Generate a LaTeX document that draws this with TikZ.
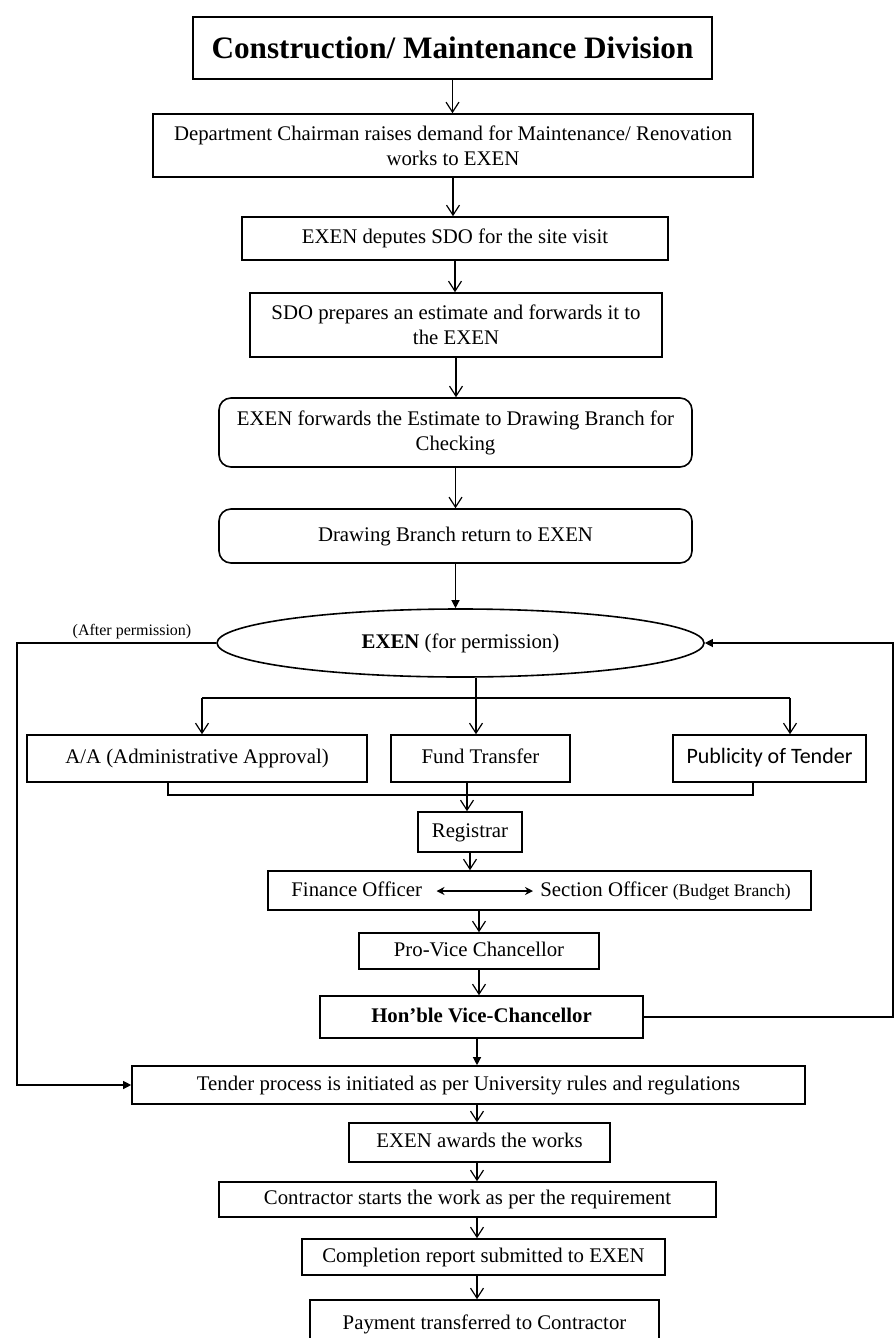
\documentclass[tikz,border=0pt]{standalone}
\usepackage{fontspec}
\setmainfont{Liberation Serif}
\newfontfamily\calibri{Carlito}
\usetikzlibrary{arrows.meta,shapes.geometric}
\begin{document}
\begin{tikzpicture}[x=0.5pt,y=-0.5pt,
  box/.style={draw,line width=0.8pt,align=center,inner sep=0pt,font=\fontsize{10.4}{12.5}\selectfont},
  one/.style={text height=1.6ex,text depth=.45ex},
  rbox/.style={box,rounded corners=6pt},
  arr/.style={line width=0.6pt,-{Straight Barb[length=5pt,width=6.5pt]}},
  arrf/.style={line width=0.6pt,-{Triangle[length=4pt,width=4pt]}},
  dbl/.style={line width=1pt,{Stealth[length=4pt,width=4pt]}-{Stealth[length=4pt,width=4pt]}},
  ln/.style={line width=0.6pt}]
\useasboundingbox (0,0) rectangle (894,1338);
\clip (0,0) rectangle (894,1338);
\node [box,minimum width=259.5pt,minimum height=31pt,font=\fontsize{15.6}{18}\selectfont\bfseries] (title) at (452.5,48) {Construction/ Maintenance Division};
\node [box,minimum width=300pt,minimum height=31.5pt] (dept) at (453,145.5) {Department Chairman raises demand for Maintenance/ Renovation\\works to EXEN};
\node [box,one,minimum width=213pt,minimum height=21.5pt] (depute) at (455,238.5) {EXEN deputes SDO for the site visit};
\node [box,minimum width=206pt,minimum height=32pt] (sdo) at (456,325) {SDO prepares an estimate and forwards it to\\the EXEN};
\node [rbox,minimum width=236.5pt,minimum height=34.5pt] (fwd) at (455.5,432.5) {EXEN forwards the Estimate to Drawing Branch for\\Checking};
\node [rbox,one,minimum width=236.5pt,minimum height=27pt] (drw) at (455.5,536) {Drawing Branch return to EXEN};
\node [box,one,ellipse,minimum width=243.5pt,minimum height=34pt] (exen) at (460.5,643) {\textbf{EXEN} (for permission)};
\node [box,one,minimum width=170pt,minimum height=23.5pt] (aa) at (197,758.5) {A/A (Administrative Approval)};
\node [box,one,minimum width=89.5pt,minimum height=23.5pt] (fund) at (480.5,758.5) {Fund Transfer};
\node [box,one,minimum width=96.5pt,minimum height=23.5pt,font=\calibri\fontsize{11}{13}\selectfont] (pub) at (769.5,758.5) {Publicity of Tender};
\node [box,one,minimum width=52pt,minimum height=20pt] (reg) at (470,832) {Registrar};
\node [box,minimum width=271.5pt,minimum height=19.5pt] (fin) at (539.5,890.5) {};
\node [one,anchor=west,inner sep=0pt,font=\fontsize{10.4}{12.5}\selectfont] (fo) at (291,891) {Finance Officer};
\node [one,anchor=west,inner sep=0pt,font=\fontsize{10.4}{12.5}\selectfont] (so) at (540,891) {Section Officer {\fontsize{8.8}{10}\selectfont(Budget Branch)}};
\node [box,one,minimum width=120pt,minimum height=18pt] (pvc) at (479,951) {Pro-Vice Chancellor};
\node [box,one,minimum width=161.5pt,minimum height=21pt,font=\fontsize{10.4}{12.5}\selectfont\bfseries] (vc) at (481.5,1017) {Hon’ble Vice-Chancellor};
\node [box,one,minimum width=336.5pt,minimum height=19pt] (tender) at (468.5,1085) {Tender process is initiated as per University rules and regulations};
\node [box,one,minimum width=130.5pt,minimum height=19.5pt] (award) at (479.5,1142.5) {EXEN awards the works};
\node [box,one,minimum width=248.5pt,minimum height=17.5pt] (contr) at (467.5,1199.5) {Contractor starts the work as per the requirement};
\node [box,one,minimum width=181.5pt,minimum height=18pt] (compl) at (483.5,1257) {Completion report submitted to EXEN};
\node [box,minimum width=174.5pt,minimum height=24pt] (pay) at (484.5,1324) {Payment transferred to Contractor};
\node [inner sep=0pt,font=\fontsize{8}{9}\selectfont] (after) at (132,632) {(After permission)};
\coordinate (tb) at (476,698);
\coordinate (tl) at (202,698);
\coordinate (tr) at (790,698);
\coordinate (bl) at (168,795);
\coordinate (bm) at (467,795);
\coordinate (br) at (753,795);
\coordinate (cx) at (477,0);
\coordinate (lf) at (17,643);
\coordinate (rt) at (893,643);
\draw [arr] (title.south) -- (title.south |- dept.north);
\draw [arr] (dept.south) -- (dept.south |- depute.north);
\draw [arr] (depute.south) -- (depute.south |- sdo.north);
\draw [arr] (sdo.south) -- (sdo.south |- fwd.north);
\draw [arr] (fwd.south) -- (fwd.south |- drw.north);
\draw [arrf] (drw.south) -- (drw.south |- exen.north);
\draw [ln] (exen.south -| tb) -- (tb);
\draw [ln] (tl) -- (tr);
\draw [arr] (tl) -- (aa.north -| tl);
\draw [arr] (tb) -- (fund.north -| tb);
\draw [arr] (tr) -- (pub.north -| tr);
\draw [ln] (aa.south -| bl) -- (bl) -- (br) -- (pub.south -| br);
\draw [ln] (fund.south -| bm) -- (bm);
\draw [arr] (bm) -- (reg.north -| bm);
\draw [arr] (reg.south) -- (reg.south |- fin.north);
\draw [dbl] ([xshift=7pt]fo.east) -- ([xshift=-3.5pt]so.west);
\draw [arr] (pvc.north |- fin.south) -- (pvc.north);
\draw [arr] (pvc.south) -- (pvc.south |- vc.north);
\draw [arrf] (vc.south -| cx) -- (tender.north -| cx);
\draw [arr] (tender.south -| cx) -- (award.north -| cx);
\draw [arr] (award.south -| cx) -- (contr.north -| cx);
\draw [arr] (contr.south -| cx) -- (compl.north -| cx);
\draw [arr] (compl.south -| cx) -- (pay.north -| cx);
\draw [arrf] (exen.west) -- (lf) |- (tender.west);
\draw [arrf] (vc.east) -- (vc.east -| rt) -- (rt) -- (exen.east);
\end{tikzpicture}
\end{document}
